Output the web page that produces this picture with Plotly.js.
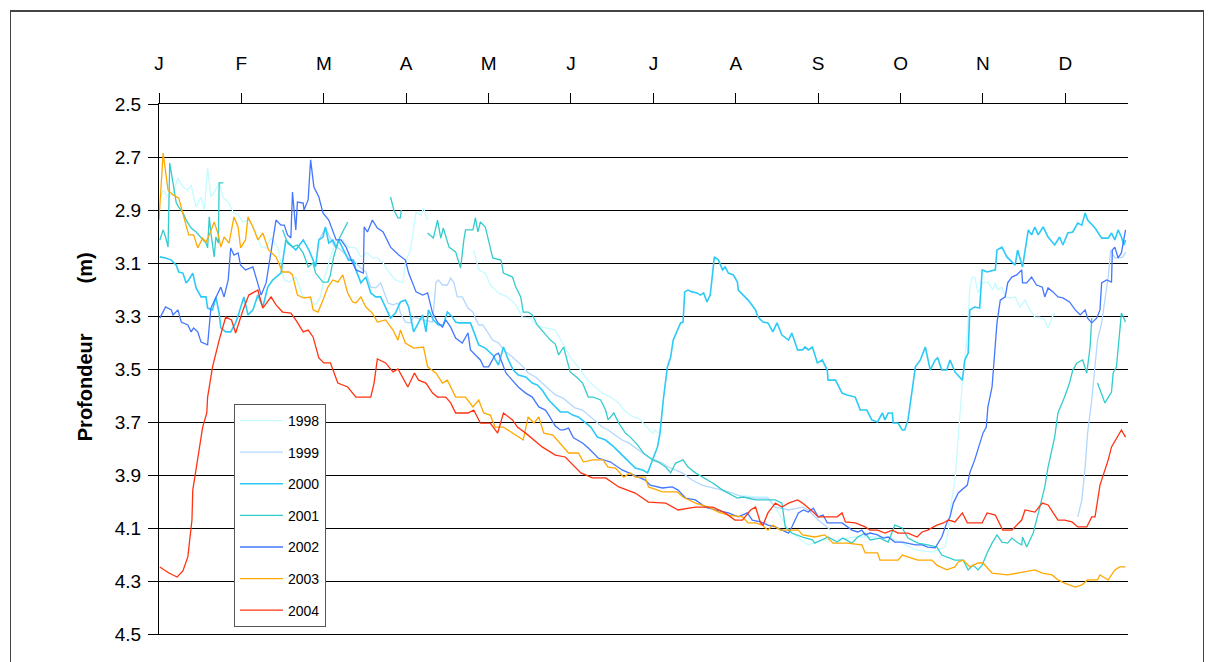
<!DOCTYPE html>
<html>
<head>
<meta charset="utf-8">
<script src="https://cdn.plot.ly/plotly-3.0.1.min.js"></script>
<style>
  html, body { margin: 0; padding: 0; background: #fff; overflow: hidden; }
  #frame { position: absolute; left: 10px; top: 10px; width: 1194px; height: 700px; border: 1px solid #444; box-sizing: border-box; border-top-width: 2px; }
  #chart { position: absolute; left: 0; top: 0; width: 1215px; height: 662px; }
</style>
</head>
<body>
<div id="frame"></div>
<div id="chart"></div>
<script>
// Month tick labels (French initials), positions in month units (0 = start of January)
const monthLabels = ["J","F","M","A","M","J","J","A","S","O","N","D"];
const monthTicks = [0,1,2,3,4,5,6,7,8,9,10,11];
const depthTicks = [2.5,2.7,2.9,3.1,3.3,3.5,3.7,3.9,4.1,4.3,4.5];
const years = ["1998","1999","2000","2001","2002","2003","2004"];

// Depth (m) readings, x in fractional months
const x1998 = [0.01,0.05,0.11,0.17,0.23,0.29,0.35,0.39,0.45,0.51,0.55,0.59,0.63,0.67,0.73,0.78,0.84,0.90,0.96,1.02,1.09,1.18,1.24,1.30,1.36,1.44,1.52,1.58,1.66,1.75,1.82,1.90,1.96,2.00,2.06,2.15,2.23,2.30,2.39,2.45,2.53,2.59,2.65,2.72,2.79,2.87,2.96,2.99,3.05,3.09,3.12,3.18,3.21,3.26,null,3.82,3.88,3.96,4.02,4.12,4.23,4.33,4.41,4.51,4.57,4.65,4.81,4.99,5.12,5.20,5.30,5.38,5.48,5.58,5.64,5.75,5.82,5.90,5.99,6.02,6.11,null,6.99,7.24,7.38,7.48,7.64,7.76,7.88,8.05,8.21,8.45,8.65,8.85,9.02,9.18,9.38,9.54,9.58,9.62,9.66,9.70,9.75,9.81,9.84,9.87,9.90,9.94,10.00,10.06,10.12,10.15,10.18,10.23,10.27,10.33,10.39,10.45,10.51,10.57,10.63,10.69,10.75,10.79,10.84,10.87];
const y1998 = [2.862,2.825,2.851,2.836,2.779,2.813,2.825,2.806,2.889,2.851,2.900,2.742,2.851,2.832,2.798,2.855,2.870,2.908,2.919,2.945,2.938,2.987,3.040,3.040,3.006,3.040,3.164,3.172,3.153,3.228,3.232,3.258,3.228,3.164,3.100,3.013,3.013,3.040,3.043,3.077,3.062,3.081,3.081,3.100,3.134,3.164,3.175,3.100,3.051,2.975,2.908,2.919,2.892,2.938,null,3.051,3.126,3.138,3.183,3.213,3.228,3.258,3.304,3.308,3.334,3.342,3.353,3.455,3.504,3.542,3.568,3.591,3.606,3.628,3.655,3.681,3.685,3.711,3.742,3.730,3.757,null,3.975,3.983,3.983,4.021,4.108,4.138,4.164,4.145,4.145,4.134,4.134,4.134,4.157,4.183,4.191,4.172,4.108,3.994,3.919,3.742,3.553,3.364,3.191,3.153,3.153,3.213,3.175,3.172,3.202,3.175,3.202,3.191,3.228,3.232,3.228,3.266,3.240,3.277,3.304,3.304,3.315,3.345,3.304,3.289];

const x1999 = [1.94,2.02,2.12,2.21,2.30,2.39,2.45,2.51,2.57,2.63,2.69,2.78,2.84,2.90,2.93,2.99,3.05,3.09,3.20,3.32,3.36,3.39,3.44,3.50,3.54,3.58,3.62,3.68,3.75,3.81,3.84,3.88,3.93,3.99,4.05,4.12,4.21,4.29,4.36,4.42,4.48,4.57,4.65,4.72,4.78,4.81,4.90,4.97,5.05,5.14,5.21,5.30,5.38,5.45,5.54,5.62,5.70,5.78,5.87,5.94,6.02,6.11,6.18,6.27,6.35,6.47,6.59,6.72,6.84,6.96,7.08,7.24,7.39,7.48,7.64,7.81,7.88,8.00,8.15,null,11.15,11.20,11.24,11.27,11.32,11.36,11.39,11.44,11.48,11.52,11.55,11.60,11.66,11.70,11.73];
const y1999 = [3.013,2.968,3.032,3.051,3.081,3.100,3.119,3.134,3.191,3.194,3.175,3.251,3.258,3.251,3.289,3.323,3.326,3.304,3.315,3.323,3.175,3.164,3.183,3.183,3.157,3.175,3.228,3.228,3.270,3.285,3.308,3.334,3.334,3.364,3.391,3.402,3.436,3.455,3.477,3.492,3.515,3.530,3.553,3.572,3.591,3.598,3.609,3.628,3.647,3.655,3.674,3.700,3.719,3.730,3.749,3.768,3.779,3.798,3.817,3.832,3.843,3.855,3.870,3.881,3.892,3.919,3.938,3.949,3.957,3.968,3.983,3.987,3.987,4.021,4.032,4.021,4.032,4.070,4.108,null,4.058,3.994,3.870,3.742,3.617,3.492,3.391,3.326,3.240,3.153,3.051,3.081,3.081,3.077,3.058];

const x2000 = [0.01,0.08,0.15,0.21,0.24,0.29,0.33,0.36,0.41,0.45,0.51,0.57,0.59,0.65,0.69,0.73,0.75,0.81,0.87,0.93,0.97,1.03,1.08,1.14,1.20,1.26,1.32,1.38,1.42,1.48,1.54,1.58,1.66,1.75,1.82,1.87,1.90,1.94,1.99,2.02,2.06,2.11,2.15,2.18,2.24,2.30,2.36,2.39,2.45,2.51,2.57,2.63,2.69,2.75,2.81,2.87,2.93,2.99,3.03,3.09,3.15,3.20,3.24,3.27,3.33,3.39,3.45,3.50,3.56,3.60,3.64,3.78,3.88,3.96,4.05,4.12,4.18,4.24,4.30,4.36,4.45,4.53,4.59,4.65,4.73,4.81,4.87,4.96,5.02,5.09,5.18,5.24,5.32,5.42,5.52,5.60,5.68,5.78,5.87,5.93,5.99,6.05,6.08,6.12,6.17,6.21,6.24,6.29,6.33,6.36,6.38,6.42,6.47,6.53,6.57,6.61,6.65,6.69,6.72,6.74,6.79,6.84,6.87,6.91,6.97,7.02,7.03,7.09,7.15,7.24,7.27,7.33,7.39,7.45,7.50,7.56,7.64,7.68,7.75,7.81,7.84,7.88,7.93,7.99,8.05,8.11,8.12,8.21,8.29,8.35,8.45,8.51,8.59,8.65,8.72,8.78,8.81,8.85,8.90,8.91,8.97,9.02,9.05,9.09,9.14,9.18,9.24,9.30,9.36,9.42,9.45,9.50,9.56,9.60,9.66,9.75,9.78,9.82,9.84,9.90,9.96,9.99,10.05,10.15,10.17,10.23,10.29,10.35,10.39,10.42,10.48,10.55,10.59,10.63,10.67,10.73,10.79,10.87,10.93,10.97,11.03,11.09,11.15,11.20,11.24,11.27,11.36,11.44,11.52,11.56,11.60,11.64,11.68,11.71,11.73];
const y2000 = [3.077,3.081,3.089,3.108,3.134,3.138,3.175,3.164,3.138,3.194,3.228,3.228,3.270,3.277,3.228,3.289,3.345,3.360,3.360,3.326,3.289,3.228,3.296,3.277,3.221,3.266,3.191,3.164,3.153,3.138,3.013,3.025,3.051,3.013,3.051,3.089,3.115,3.013,3.002,2.964,3.025,3.013,3.043,3.013,3.051,3.089,3.089,3.126,3.175,3.153,3.213,3.228,3.228,3.266,3.308,3.289,3.247,3.240,3.266,3.360,3.323,3.296,3.360,3.277,3.315,3.334,3.334,3.285,3.304,3.323,3.326,3.326,3.409,3.421,3.447,3.485,3.417,3.466,3.504,3.523,3.530,3.553,3.560,3.579,3.617,3.643,3.662,3.662,3.674,3.681,3.704,3.719,3.757,3.768,3.794,3.817,3.843,3.874,3.881,3.892,3.843,3.794,3.742,3.617,3.492,3.455,3.391,3.353,3.326,3.323,3.209,3.202,3.209,3.213,3.221,3.213,3.247,3.221,3.126,3.077,3.089,3.126,3.115,3.138,3.145,3.172,3.202,3.221,3.240,3.277,3.304,3.323,3.326,3.360,3.326,3.372,3.391,3.364,3.428,3.428,3.417,3.428,3.417,3.477,3.466,3.504,3.542,3.542,3.591,3.598,3.606,3.655,3.655,3.692,3.700,3.666,3.692,3.666,3.666,3.704,3.704,3.730,3.730,3.692,3.591,3.492,3.466,3.417,3.504,3.466,3.458,3.504,3.504,3.466,3.511,3.542,3.466,3.440,3.277,3.266,3.270,3.126,3.134,3.126,3.051,3.040,3.077,3.096,3.108,3.051,3.115,2.975,2.994,2.964,2.994,2.964,3.002,3.032,3.002,3.032,2.987,2.983,2.949,2.957,2.911,2.938,2.968,3.006,3.006,2.987,3.013,2.975,3.002,3.032,3.013];

const x2001 = [0.01,0.05,0.08,0.11,0.13,0.17,0.21,0.24,0.29,0.33,0.39,0.45,0.51,0.57,0.59,0.61,0.63,0.67,0.69,0.72,0.73,0.78,null,1.50,1.56,1.62,1.68,1.75,1.81,1.87,1.90,1.99,2.05,2.08,2.12,2.18,2.24,2.29,null,2.81,2.85,2.90,2.93,2.94,null,3.26,3.33,3.38,3.42,3.45,3.52,3.60,3.66,3.70,3.72,3.81,3.84,3.87,3.90,3.96,4.05,4.15,4.18,4.29,4.33,4.39,4.42,4.48,4.53,4.59,4.67,4.75,4.81,4.85,4.91,4.96,4.99,5.08,5.14,5.21,5.27,5.36,5.42,5.45,5.52,5.58,5.66,5.72,5.81,5.88,5.99,6.06,6.15,6.21,6.27,6.36,6.42,6.51,6.61,6.72,6.84,6.96,7.02,7.09,7.24,7.48,7.56,7.60,7.68,7.81,7.93,7.96,8.05,8.12,8.23,8.30,8.41,8.48,8.57,8.63,8.75,8.85,8.93,9.02,9.09,9.21,9.33,9.44,9.50,9.60,9.66,9.76,9.82,9.88,9.94,9.99,10.05,10.11,10.17,10.23,10.30,10.35,10.41,10.47,10.48,10.53,10.61,10.69,10.75,10.79,10.87,10.91,10.99,11.05,11.09,11.14,11.21,11.26,11.30,11.32,null,11.39,11.44,11.48,11.56,11.58,11.62,11.65,11.68,11.73];
const y2001 = [3.013,2.975,3.002,3.040,2.723,2.798,2.874,2.889,2.911,2.938,2.968,2.983,3.002,3.025,3.043,2.926,2.987,3.077,3.002,3.025,2.798,2.798,null,2.975,3.025,3.040,3.032,3.062,3.115,3.100,3.138,3.172,3.172,3.145,3.077,3.013,2.975,2.945,null,2.851,2.900,2.930,2.930,2.900,null,2.987,3.006,2.938,3.006,2.968,3.040,3.058,3.119,3.013,2.975,2.975,2.930,2.983,2.945,2.964,3.081,3.089,3.138,3.153,3.191,3.228,3.285,3.285,3.296,3.334,3.364,3.391,3.406,3.447,3.417,3.477,3.511,3.534,3.553,3.606,3.606,3.617,3.655,3.692,3.666,3.704,3.742,3.757,3.787,3.817,3.843,3.851,3.870,3.892,3.855,3.843,3.870,3.892,3.911,3.930,3.957,3.975,3.987,3.983,3.994,3.994,4.006,4.096,4.119,4.134,4.145,4.157,4.145,4.134,4.153,4.138,4.157,4.134,4.119,4.145,4.138,4.153,4.089,4.100,4.138,4.157,4.164,4.172,4.202,4.213,4.221,4.221,4.258,4.240,4.258,4.240,4.194,4.157,4.126,4.153,4.157,4.138,4.153,4.164,4.134,4.172,4.119,4.021,3.945,3.870,3.757,3.666,3.606,3.553,3.504,3.477,3.466,3.515,3.417,3.308,null,3.553,3.591,3.628,3.587,3.515,3.492,3.391,3.289,3.323];

const x2002 = [0.01,0.08,0.15,0.17,0.23,0.27,0.35,0.39,0.42,0.47,0.51,0.59,0.63,0.69,0.75,0.79,0.84,0.87,0.91,0.96,0.99,1.05,1.14,1.18,1.24,1.30,1.36,1.42,1.48,1.52,1.56,1.60,1.62,1.66,1.68,1.75,1.76,1.81,1.84,1.88,1.94,1.99,2.06,2.15,2.21,2.27,2.35,2.39,2.48,2.49,2.53,2.59,2.65,2.72,2.81,2.91,2.99,3.03,3.12,3.20,3.26,3.32,3.38,3.44,3.48,3.54,3.60,3.68,3.75,3.78,3.84,3.90,3.94,4.00,4.08,4.12,4.21,4.29,4.36,4.45,4.53,4.61,4.69,4.73,4.81,4.87,4.91,4.97,5.03,5.14,5.21,5.33,5.48,5.62,5.75,5.82,5.90,5.96,6.11,6.23,6.30,6.39,6.51,6.63,6.75,6.91,7.03,7.14,7.20,7.30,7.39,7.48,7.56,7.64,7.68,7.76,7.82,7.88,7.94,8.00,8.06,8.11,8.29,8.41,8.48,8.53,8.57,8.63,8.72,8.79,8.85,8.93,9.02,9.09,9.18,9.26,9.33,9.42,9.50,9.56,9.60,9.64,9.70,9.81,9.84,9.90,9.96,10.00,10.04,10.06,10.11,10.15,10.17,10.21,10.27,10.30,10.35,10.41,10.47,10.48,10.53,10.59,10.65,10.72,10.75,10.79,10.85,10.91,10.97,11.05,11.12,11.18,11.24,11.27,11.32,11.38,11.42,11.44,11.50,11.56,11.57,11.60,11.64,11.68,11.70,11.73];
const y2002 = [3.308,3.266,3.277,3.296,3.277,3.323,3.334,3.360,3.345,3.360,3.398,3.409,3.270,3.228,3.191,3.228,3.164,3.043,3.070,3.062,3.108,3.126,3.115,3.157,3.221,3.175,3.051,2.938,2.957,2.957,2.994,3.006,2.832,2.975,2.870,2.874,2.900,2.862,2.711,2.813,2.851,2.911,2.938,3.013,3.013,3.040,3.100,3.126,3.138,2.964,2.983,2.938,2.968,2.983,3.040,3.070,3.089,3.138,3.209,3.221,3.213,3.289,3.323,3.342,3.315,3.342,3.383,3.402,3.364,3.428,3.447,3.466,3.492,3.492,3.447,3.440,3.515,3.542,3.568,3.591,3.606,3.643,3.655,3.674,3.715,3.730,3.730,3.723,3.760,3.779,3.798,3.836,3.851,3.881,3.900,3.908,3.919,3.938,3.949,3.945,3.957,3.987,3.994,4.021,4.032,4.043,4.058,4.043,4.070,4.077,4.089,4.096,4.108,4.119,4.096,4.043,4.032,4.040,4.025,4.058,4.051,4.081,4.081,4.108,4.115,4.108,4.126,4.119,4.126,4.138,4.134,4.153,4.153,4.157,4.164,4.164,4.172,4.175,4.134,4.081,4.058,4.006,3.968,3.938,3.892,3.843,3.779,3.742,3.719,3.643,3.568,3.417,3.326,3.240,3.228,3.175,3.153,3.145,3.126,3.175,3.175,3.153,3.183,3.191,3.228,3.194,3.209,3.228,3.232,3.247,3.277,3.296,3.277,3.308,3.326,3.308,3.277,3.175,3.164,3.172,3.051,3.040,3.081,3.062,3.025,2.975];

const x2003 = [0.00,0.05,0.11,0.17,0.24,0.33,0.36,0.42,0.47,0.53,0.57,0.61,0.67,0.72,0.75,0.79,0.85,0.91,0.96,0.99,1.05,1.08,1.14,1.20,1.26,1.33,1.42,1.50,1.58,1.62,1.68,1.76,1.84,1.87,1.93,1.99,2.05,2.11,2.17,2.23,2.29,2.35,2.39,2.45,2.51,2.59,2.65,2.75,2.84,2.90,2.93,2.99,3.09,3.21,3.26,3.36,3.44,3.50,3.60,3.72,3.81,3.88,3.94,4.02,4.08,4.18,4.29,4.36,4.42,4.48,4.55,4.61,4.67,4.78,4.91,4.97,5.09,5.15,5.26,5.39,5.45,5.54,5.64,5.72,5.78,5.90,5.94,6.11,6.29,6.36,6.51,6.67,6.79,6.91,7.08,7.15,7.24,7.32,7.39,7.45,7.54,7.76,7.81,7.96,8.08,8.18,8.35,8.53,8.57,8.72,8.75,8.97,9.02,9.09,9.21,9.38,9.44,9.56,9.66,9.70,9.76,9.84,9.94,10.00,10.11,10.30,10.47,10.63,10.72,10.84,10.91,10.99,11.12,11.20,11.27,11.39,11.42,11.52,11.60,11.66,11.73];
const y2003 = [2.938,2.685,2.825,2.843,2.855,2.968,2.994,2.994,3.043,3.006,3.021,2.994,2.945,2.994,3.040,3.002,3.025,2.926,2.964,3.043,3.013,2.926,2.964,3.013,2.987,3.051,3.077,3.134,3.134,3.145,3.221,3.232,3.228,3.277,3.285,3.240,3.191,3.164,3.172,3.145,3.213,3.247,3.251,3.228,3.266,3.289,3.323,3.315,3.353,3.391,3.353,3.402,3.421,3.417,3.492,3.515,3.553,3.542,3.606,3.606,3.643,3.617,3.666,3.674,3.719,3.719,3.742,3.757,3.768,3.681,3.704,3.681,3.742,3.749,3.794,3.817,3.817,3.851,3.843,3.843,3.870,3.874,3.908,3.892,3.908,3.908,3.945,3.964,3.964,3.983,4.006,4.021,4.040,4.051,4.058,4.081,4.081,4.089,4.108,4.089,4.108,4.108,4.126,4.134,4.126,4.157,4.157,4.164,4.194,4.194,4.221,4.221,4.202,4.209,4.221,4.221,4.240,4.258,4.247,4.228,4.221,4.247,4.232,4.232,4.270,4.277,4.266,4.258,4.270,4.277,4.296,4.308,4.323,4.315,4.296,4.296,4.277,4.296,4.258,4.247,4.247];

const x2004 = [0.01,0.12,0.22,0.29,0.35,0.40,0.41,0.47,0.53,0.58,0.59,0.65,0.73,0.81,0.88,0.93,1.02,1.09,1.20,1.26,1.36,1.42,1.50,1.60,1.66,1.75,1.81,1.87,1.94,2.00,2.08,2.17,2.29,2.39,2.57,2.61,2.65,2.75,2.84,2.90,3.02,3.10,3.15,3.24,3.32,3.38,3.48,3.54,3.60,3.75,3.82,3.90,4.02,4.11,4.18,4.29,4.35,4.45,4.57,4.65,4.81,4.93,5.12,5.26,5.42,5.58,5.78,5.94,6.15,6.30,6.51,6.72,6.87,6.99,7.08,7.18,7.24,7.30,7.33,7.39,7.48,7.56,7.64,7.75,7.81,7.87,7.94,8.00,8.11,8.23,8.29,8.33,8.45,8.57,8.63,8.72,8.81,8.90,8.97,9.09,9.20,9.26,9.33,9.44,9.52,9.58,9.66,9.75,9.81,9.99,10.05,10.15,10.24,10.35,10.47,10.51,10.63,10.72,10.79,10.91,10.99,11.08,11.15,11.26,11.32,11.36,11.42,11.52,11.56,11.68,11.73];
const y2004 = [4.247,4.270,4.285,4.262,4.209,4.070,3.957,3.843,3.719,3.666,3.606,3.492,3.391,3.304,3.315,3.364,3.277,3.221,3.202,3.270,3.228,3.258,3.285,3.289,3.315,3.360,3.353,3.379,3.458,3.477,3.477,3.553,3.568,3.606,3.606,3.553,3.462,3.477,3.511,3.500,3.568,3.515,3.542,3.553,3.591,3.606,3.606,3.628,3.666,3.666,3.655,3.704,3.704,3.742,3.666,3.692,3.719,3.742,3.775,3.794,3.825,3.832,3.892,3.911,3.911,3.945,3.968,4.002,4.006,4.032,4.021,4.021,4.043,4.070,4.070,4.032,4.021,4.081,4.089,4.043,4.006,4.021,4.006,3.994,4.006,4.021,4.040,4.058,4.058,4.058,4.043,4.077,4.081,4.096,4.108,4.108,4.119,4.108,4.119,4.119,4.134,4.115,4.108,4.089,4.081,4.070,4.077,4.043,4.081,4.081,4.043,4.051,4.108,4.108,4.070,4.032,4.040,4.006,4.013,4.070,4.070,4.077,4.096,4.096,4.058,4.058,3.938,3.843,3.794,3.730,3.757];

const seriesX = [x1998, x1999, x2000, x2001, x2002, x2003, x2004];
const seriesY = [y1998, y1999, y2000, y2001, y2002, y2003, y2004];
const colors = ["#c6fbff","#b3d7ff","#2ccaf7","#33cccc","#4477ff","#ffa800","#ff3311"];
const widths = [1.3,1.3,1.6,1.3,1.3,1.3,1.3];

const traces = years.map((yr, i) => ({
  type: "scatter",
  mode: "lines",
  name: yr,
  legendgroup: yr,
  x: seriesX[i],
  y: seriesY[i],
  connectgaps: false,
  line: { color: colors[i], width: widths[i] },
  hoverinfo: "x+y+name"
}));

const FONT = "'Liberation Sans', Arial, Helvetica, sans-serif";
const NB = "\u00a0";
const ZW = "\u200B";

const layout = {
  width: 1215, height: 662,
  margin: { l: 159, r: 87, t: 104, b: 28 },
  paper_bgcolor: "rgba(0,0,0,0)",
  plot_bgcolor: "rgba(0,0,0,0)",
  font: { family: FONT, color: "#000" },
  showlegend: true,
  legend: {
    x: 0.0774, y: 0.434, xanchor: "left", yanchor: "top",
    bgcolor: "#fff", bordercolor: "#555", borderwidth: 1,
    font: { family: FONT, size: 14, color: "#000" },
    tracegroupgap: 10.4, itemwidth: 43
  },
  xaxis: {
    side: "top", range: [0, 11.76],
    tickmode: "array", tickvals: monthTicks, ticktext: monthLabels,
    ticks: "outside", ticklen: 10, tickcolor: "#000", tickwidth: 1,
    ticklabelstandoff: 15,
    showline: true, linecolor: "#000", linewidth: 1, mirror: true,
    showgrid: false, zeroline: false,
    tickfont: { family: FONT, size: 19, color: "#000" }
  },
  yaxis: {
    range: [4.5, 2.5], autorange: false,
    tickmode: "array", tickvals: depthTicks, ticktext: depthTicks.map(v => v.toFixed(1)),
    ticks: "outside", ticklen: 10, tickcolor: "#000", tickwidth: 1,
    ticklabelstandoff: 3,
    showline: true, linecolor: "#000", linewidth: 1,
    showgrid: true, gridcolor: "#000", gridwidth: 1, zeroline: false,
    tickfont: { family: FONT, size: 19, color: "#000" },
    title: {
      text: "<b>" + ZW + NB.repeat(8) + "Profondeur" + NB.repeat(9) + "(m)</b>",
      font: { family: FONT, size: 20, color: "#000" },
      standoff: 16
    }
  }
};

Plotly.newPlot("chart", traces, layout, { displayModeBar: false, staticPlot: false });
</script>
</body>
</html>
